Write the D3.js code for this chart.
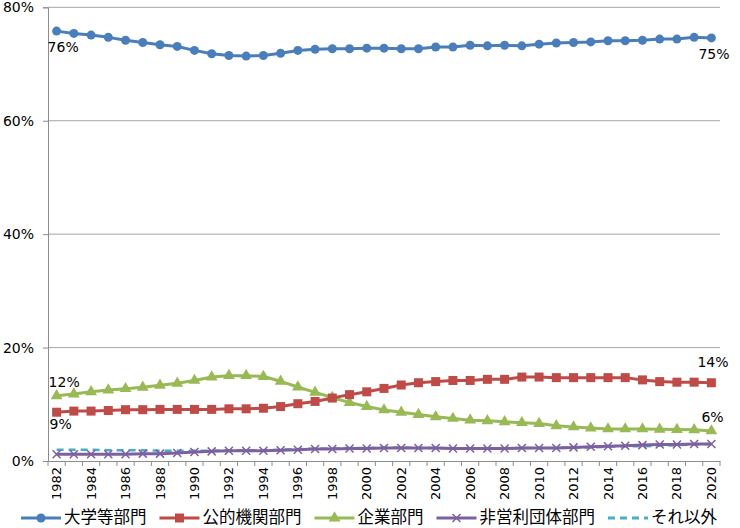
<!DOCTYPE html>
<html><head><meta charset="utf-8">
<script src="https://cdn.jsdelivr.net/npm/d3@7"></script>
<style>body{margin:0;background:#fff}svg{display:block}</style>
</head><body><svg id="c" width="740" height="528"></svg>
<script>
const years = d3.range(1982, 2021);
const univ = [75.8,75.4,75.1,74.7,74.2,73.8,73.4,73.1,72.4,71.8,71.5,71.4,71.5,71.9,72.4,72.6,72.7,72.7,72.8,72.8,72.7,72.7,73.0,73.0,73.3,73.2,73.3,73.2,73.5,73.7,73.8,73.9,74.1,74.1,74.2,74.4,74.4,74.7,74.6];
const pub = [8.6,8.8,8.8,8.9,9.05,9.05,9.1,9.1,9.1,9.1,9.2,9.2,9.3,9.6,10.1,10.5,11.1,11.7,12.2,12.8,13.4,13.8,14.0,14.2,14.2,14.4,14.4,14.8,14.8,14.7,14.7,14.7,14.7,14.7,14.3,14.0,13.9,13.9,13.8];
const corp = [11.5,11.8,12.2,12.5,12.75,13.0,13.35,13.7,14.2,14.8,15.05,15.05,14.9,14.05,13.05,12.1,11.2,10.3,9.6,9.0,8.6,8.2,7.8,7.5,7.2,7.1,6.9,6.75,6.6,6.2,6.0,5.8,5.65,5.65,5.65,5.6,5.55,5.5,5.3];
const npo = [1.2,1.2,1.2,1.2,1.2,1.3,1.3,1.4,1.6,1.7,1.8,1.8,1.8,1.9,2.0,2.1,2.1,2.2,2.2,2.3,2.3,2.3,2.3,2.2,2.2,2.2,2.2,2.3,2.3,2.3,2.4,2.5,2.6,2.7,2.8,2.9,2.9,3.0,3.0];
const other = [2.0,2.0,2.0,1.9,1.9,1.9,1.8,1.8,1.8,1.8,1.9,1.9,1.9,2.0,2.1,2.2,2.2,2.3,2.3,2.4,2.4,2.3,2.3,2.2,2.2,2.2,2.2,2.3,2.3,2.3,2.4,2.4,2.5,2.6,2.6,2.7,2.8,2.9,3.0];
const yTicks = [0,20,40,60,80];
const seriesNames = ["大学等部門","公的機関部門","企業部門","非営利団体部門","それ以外"];
const seriesColors = ["#4A7EBB","#BE4B48","#98B954","#7D60A0","#4BACC6"];
const seriesMarkers = ["circle","square","triangle","cross","none"];
const seriesData = [univ, pub, corp, npo, other];
const labels = [
  {s:0, i:0, text:"76%", dx:-9, dy:17},
  {s:0, i:38, text:"75%", dx:-13, dy:17},
  {s:1, i:0, text:"9%", dx:-7, dy:13},
  {s:1, i:38, text:"14%", dx:-14, dy:-20},
  {s:2, i:0, text:"12%", dx:-8, dy:-13},
  {s:2, i:38, text:"6%", dx:-10, dy:-13}
];

const svg = d3.select("#c");
const L = 48, R = 720, T = 7.3, B = 461;
const x = d3.scaleBand().domain(years).range([L, R]);
const y = d3.scaleLinear().domain([0, 80]).range([B, T]);
const cx = d => x(d) + x.bandwidth()/2;
const numFont = "'DejaVu Sans', sans-serif";
const jpFont = "'Noto Sans CJK JP', sans-serif";

// gridlines
svg.append("g").selectAll("line").data(yTicks.filter(t => t > 0)).join("line")
  .attr("x1", L).attr("x2", R).attr("y1", d => y(d)).attr("y2", d => y(d))
  .attr("stroke", "#a6a6a6").attr("stroke-width", 1);

// y axis
const ya = svg.append("g").attr("transform", `translate(${L},0)`)
  .call(d3.axisLeft(y).tickValues(yTicks).tickFormat(d => d + "%").tickSize(5).tickPadding(9));
ya.select(".domain").attr("stroke", "#8c8c8c");
ya.selectAll(".tick line").attr("stroke", "#8c8c8c");
ya.selectAll("text").attr("font-family", numFont).attr("font-size", 14).attr("fill", "#000");

// x axis
const xa = svg.append("g").attr("transform", `translate(0,${B})`)
  .call(d3.axisBottom(x).tickValues(years).tickSize(0).tickFormat(d => d % 2 === 0 ? d : ""));
xa.select(".domain").attr("stroke", "#8c8c8c");
xa.selectAll("text").attr("font-family", numFont).attr("font-size", 13).attr("fill", "#000")
  .attr("transform", "rotate(-90)").attr("text-anchor", "end").attr("dy", "0.35em").attr("x", -6).attr("y", 0);
// boundary ticks
const bounds = years.map(d => x(d)).concat([R]);
svg.append("g").selectAll("line").data(bounds).join("line")
  .attr("x1", d => d).attr("x2", d => d).attr("y1", B).attr("y2", B + 5)
  .attr("stroke", "#8c8c8c");

// lines
const line = d3.line().x((d, i) => cx(years[i])).y(d => y(d));
const order = [4, 3, 2, 1, 0];
order.forEach(s => {
  const g = svg.append("g");
  g.append("path").datum(seriesData[s]).attr("d", line).attr("fill", "none")
    .attr("stroke", seriesColors[s]).attr("stroke-width", s === 4 ? 2.5 : 3)
    .attr("stroke-dasharray", s === 4 ? "7,5" : null).attr("stroke-linejoin", "round");
  const m = seriesMarkers[s];
  const pts = g.selectAll(".m").data(seriesData[s]).join("g")
    .attr("transform", (d, i) => `translate(${cx(years[i])},${y(d)})`);
  if (m === "circle") pts.append("circle").attr("r", 4.5).attr("fill", seriesColors[s]);
  if (m === "square") pts.append("rect").attr("x", -4.5).attr("y", -4.5).attr("width", 9).attr("height", 9).attr("fill", seriesColors[s]);
  if (m === "triangle") pts.append("path").attr("d", d3.symbol(d3.symbolTriangle, 60)()).attr("fill", seriesColors[s]);
  if (m === "cross") pts.append("path").attr("d", "M-4,-4L4,4M-4,4L4,-4").attr("stroke", seriesColors[s]).attr("stroke-width", 1.5);
});

// data labels
svg.append("g").selectAll("text").data(labels).join("text")
  .attr("x", d => cx(years[d.i]) + d.dx).attr("y", d => y(seriesData[d.s][d.i]) + d.dy)
  .attr("dominant-baseline", "middle")
  .attr("font-family", numFont).attr("font-size", 14).attr("fill", "#000").text(d => d.text);

// legend
const lg = svg.append("g").attr("transform", "translate(0,518)");
let lx = 21;
seriesNames.forEach((name, s) => {
  const g = lg.append("g").attr("transform", `translate(${lx},0)`);
  g.append("line").attr("x1", 0).attr("x2", 40).attr("y1", 0).attr("y2", 0)
    .attr("stroke", seriesColors[s]).attr("stroke-width", 3).attr("stroke-dasharray", s === 4 ? "7,5" : null);
  const m = seriesMarkers[s];
  if (m === "circle") g.append("circle").attr("cx", 20).attr("r", 4.5).attr("fill", seriesColors[s]);
  if (m === "square") g.append("rect").attr("x", 15.5).attr("y", -4.5).attr("width", 9).attr("height", 9).attr("fill", seriesColors[s]);
  if (m === "triangle") g.append("path").attr("transform", "translate(20,0)").attr("d", d3.symbol(d3.symbolTriangle, 60)()).attr("fill", seriesColors[s]);
  if (m === "cross") g.append("path").attr("d", "M16,-4L24,4M16,4L24,-4").attr("stroke", seriesColors[s]).attr("stroke-width", 1.5);
  const t = g.append("text").attr("x", 43).attr("y", 5)
    .attr("font-family", jpFont).attr("font-size", 16.5).attr("fill", "#000").text(name);
  lx += 43 + t.node().getComputedTextLength() + 13;
});
</script></body></html>
